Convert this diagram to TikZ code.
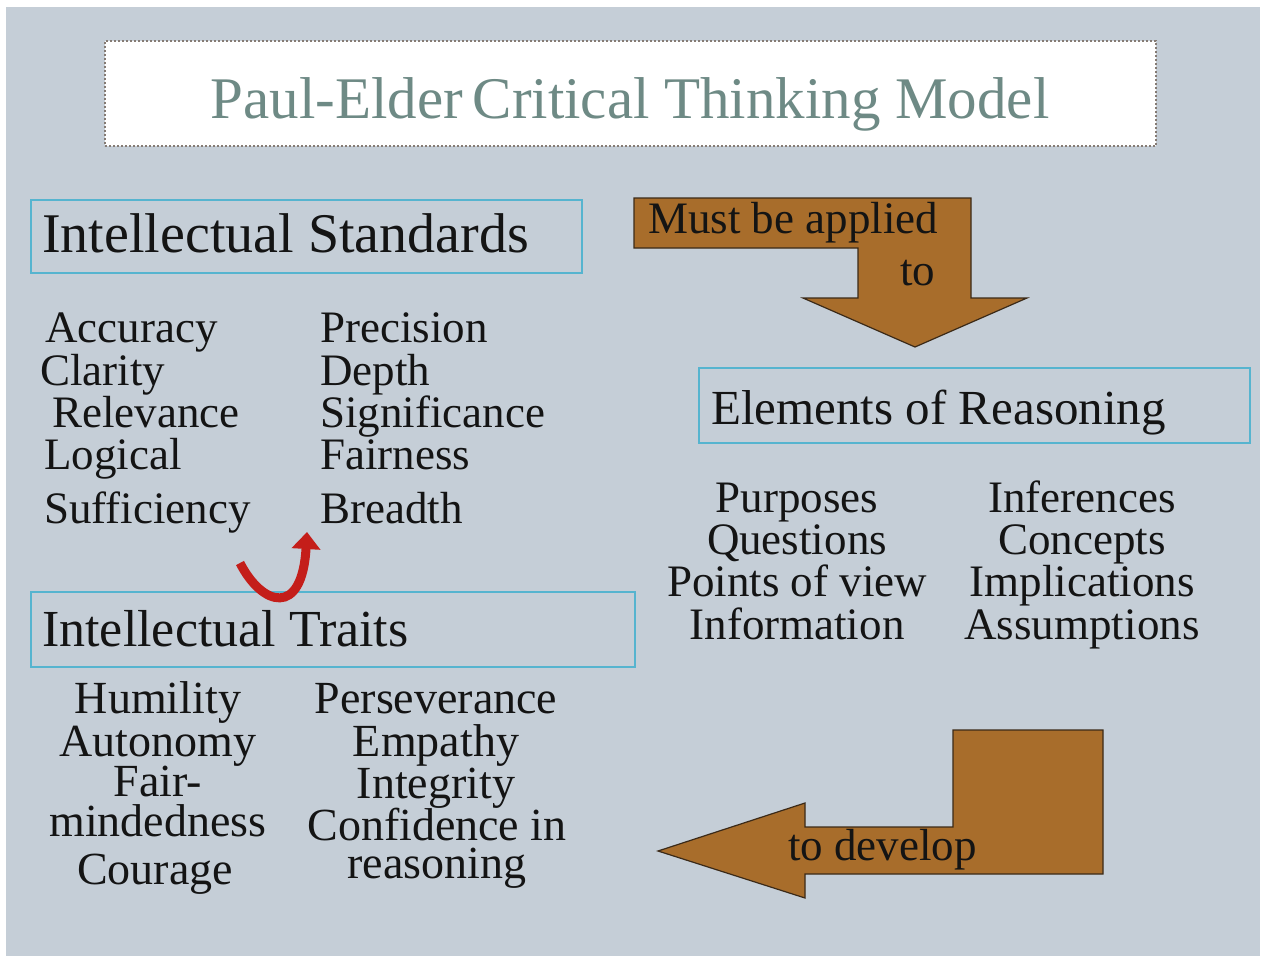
\documentclass[tikz,border=0pt]{standalone}
\usepackage{fontspec}
\setmainfont{Liberation Serif}
\usetikzlibrary{arrows.meta}
\definecolor{bg}{HTML}{C5CED7}
\definecolor{boxline}{HTML}{56B4CF}
\definecolor{titlecol}{HTML}{6E8A85}
\definecolor{brownfill}{HTML}{A86D2B}
\definecolor{brownline}{HTML}{3B2A18}
\definecolor{arrowred}{HTML}{C41E1A}
\definecolor{titleborder}{HTML}{857B74}
\definecolor{ink}{HTML}{141414}
\begin{document}
\begin{tikzpicture}[x=1pt,y=-1pt,
  headbox/.style={draw=boxline, line width=1.5pt, anchor=north west, inner sep=0pt},
  headtext/.style={inner sep=0pt, anchor=base west, text=ink},
  item/.style={inner sep=0pt, text=ink, font=\fontsize{45}{50}\selectfont},
  trait/.style={inner sep=0pt, text=ink, font=\fontsize{46}{50}\selectfont, anchor=base},
  blockarrow/.style={fill=brownfill, draw=brownline, line width=1.2pt, line join=miter},
  arrowtext/.style={inner sep=0pt, anchor=base west, text=ink, font=\fontsize{45}{50}\selectfont},
  curlarrow/.style={draw=arrowred, line width=9pt, -{Triangle[length=17pt,width=28pt]}}
]
\fill[white] (0,0) rectangle (1264,956);
\useasboundingbox (0,0) rectangle (1264,956);
\fill[bg] (6,7) rectangle (1260,956);

% title
\node[draw=titleborder, dotted, line width=2pt, fill=white, minimum width=1051pt,
      minimum height=105pt, anchor=north west, inner sep=0pt] (titlebox) at (104,40) {};
\node[inner sep=0pt, anchor=base, text=titlecol, font=\fontsize{59}{60}\selectfont]
      (title) at (630,118) {Paul-Elder\,Critical Thinking Model};

% Intellectual Standards
\node[headbox, minimum width=551pt, minimum height=73pt] (stdbox) at (30,199) {};
\node[headtext, font=\fontsize{56}{60}\selectfont] (stdtext) at (42,252) {Intellectual Standards};
\node[item, anchor=base west] (s1) at (45,342) {Accuracy};
\node[item, anchor=base west] (s2) at (40,385) {Clarity};
\node[item, anchor=base west] (s3) at (52,427) {Relevance};
\node[item, anchor=base west] (s4) at (44,469) {Logical};
\node[item, anchor=base west] (s5) at (44,523) {Sufficiency};
\node[item, anchor=base west] (s6) at (320,342) {Precision};
\node[item, anchor=base west] (s7) at (320,385) {Depth};
\node[item, anchor=base west] (s8) at (320,427) {Significance};
\node[item, anchor=base west] (s9) at (320,469) {Fairness};
\node[item, anchor=base west] (s10) at (320,523) {Breadth};

% Must be applied to
\draw[blockarrow] (634,198) -- (971,198) -- (971,298) -- (1027,298) -- (915,347)
   -- (803,298) -- (858,298) -- (858,248) -- (634,248) -- cycle;
\node[arrowtext] (must) at (648,233) {Must be applied};
\node[arrowtext] (mustto) at (900,285) {to};

% Elements of Reasoning
\node[headbox, minimum width=551pt, minimum height=75pt] (elbox) at (698,367) {};
\node[headtext, font=\fontsize{49}{54}\selectfont] (eltext) at (711,424) {Elements of Reasoning};
\node[item, anchor=base] (e1) at (797,512) {Purposes};
\node[item, anchor=base] (e2) at (797,554) {Questions};
\node[item, anchor=base] (e3) at (797,596) {Points of view};
\node[item, anchor=base] (e4) at (797,639) {Information};
\node[item, anchor=base] (e5) at (1082,512) {Inferences};
\node[item, anchor=base] (e6) at (1082,554) {Concepts};
\node[item, anchor=base] (e7) at (1082,596) {Implications};
\node[item, anchor=base] (e8) at (1082,639) {Assumptions};

% Intellectual Traits
\node[headbox, minimum width=604pt, minimum height=75pt] (trbox) at (30,591) {};
\node[headtext, font=\fontsize{52}{56}\selectfont] (trtext) at (42,646) {Intellectual Traits};
\node[trait] (t1) at (158,713) {Humility};
\node[trait] (t2) at (158,756) {Autonomy};
\node[trait] (t3) at (158,796) {Fair-};
\node[trait] (t4) at (158,836) {mindedness};
\node[trait] (t5) at (155,884) {Courage};
\node[trait] (t6) at (436,713) {Perseverance};
\node[trait] (t7) at (436,756) {Empathy};
\node[trait] (t8) at (436,798) {Integrity};
\node[trait] (t9) at (437,840) {Confidence in};
\node[trait] (t10) at (437,878) {reasoning};

% curved red arrow
\coordinate (curlA) at (240,563);
\coordinate (curlB) at (307,532);
\draw[curlarrow] (curlA) .. controls (262,606) and (302,618) .. (curlB);

% to develop
\draw[blockarrow] (953,730) -- (1103,730) -- (1103,874) -- (805,874) -- (805,898)
   -- (658,851) -- (805,803) -- (805,827) -- (953,827) -- cycle;
\node[arrowtext] (develop) at (788,860) {to develop};
\end{tikzpicture}
\end{document}
